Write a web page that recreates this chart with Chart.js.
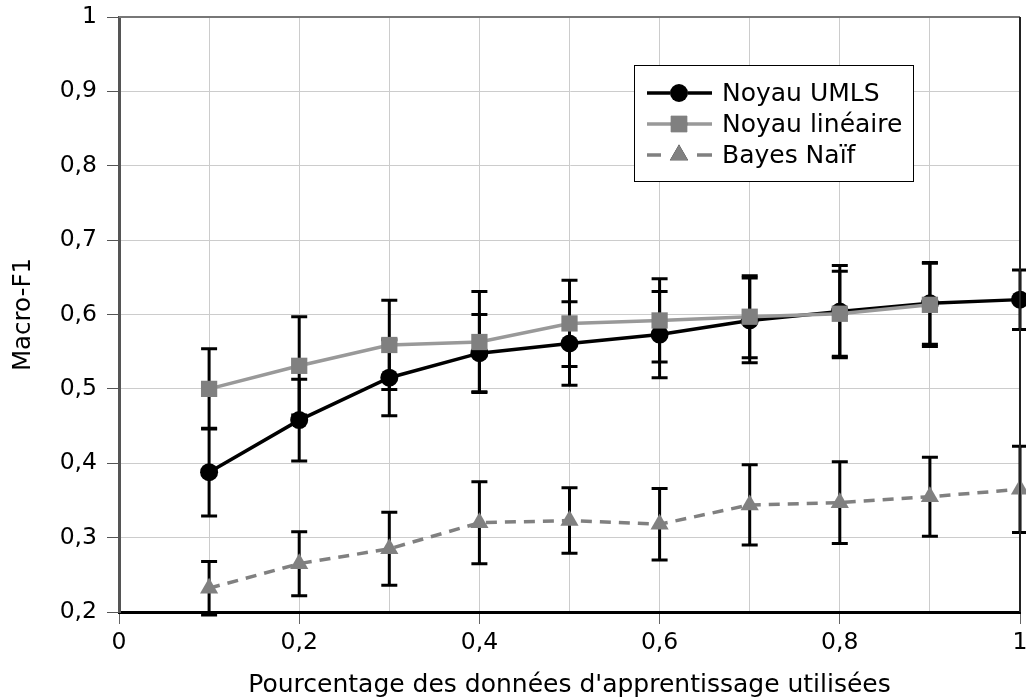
<!DOCTYPE html>
<html>
<head>
<meta charset="utf-8">
<script src="https://cdn.jsdelivr.net/npm/chart.js@4"></script>
<style>
  html, body { margin: 0; padding: 0; background: #fff; }
  #wrap { width: 1026px; height: 700px; }
</style>
</head>
<body>
<div id="wrap"><canvas id="c" width="1026" height="700"></canvas></div>
<script>
const xValues      = [0.1, 0.2, 0.3, 0.4, 0.5, 0.6, 0.7, 0.8, 0.9, 1.0];
const umls         = [0.388, 0.458, 0.515, 0.548, 0.561, 0.573, 0.592, 0.604, 0.615, 0.620];
const umlsErr      = [0.059, 0.055, 0.051, 0.052, 0.056, 0.058, 0.057, 0.062, 0.055, 0.040];
const lineaire     = [0.500, 0.531, 0.559, 0.563, 0.588, 0.592, 0.597, 0.601, 0.613, null];
const lineaireErr  = [0.054, 0.066, 0.060, 0.068, 0.058, 0.056, 0.055, 0.057, 0.056, null];
const bayes        = [0.232, 0.265, 0.285, 0.320, 0.323, 0.318, 0.344, 0.347, 0.355, 0.365];
const bayesErr     = [0.036, 0.043, 0.049, 0.055, 0.044, 0.048, 0.054, 0.055, 0.053, 0.058];
const seriesNames  = ['Noyau UMLS', 'Noyau linéaire', 'Bayes Naïf'];
const xTitle = "Pourcentage des données d'apprentissage utilisées";
const yTitle = 'Macro-F1';

const FONT = 'DejaVu Sans';
const toPts = (ys) => xValues.map((x, i) => ({x: x, y: ys[i]}));
const fmt = (v) => String(Math.round(v * 10) / 10).replace('.', ',');

const errorBars = {
  id: 'errorBars',
  beforeDatasetsDraw(chart) {
    const {ctx, scales: {x, y}} = chart;
    ctx.save();
    ctx.strokeStyle = '#000';
    ctx.lineWidth = 3;
    chart.data.datasets.forEach((ds) => {
      const errs = ds.errors;
      if (!errs) return;
      ds.data.forEach((p, i) => {
        if (p.y == null || errs[i] == null) return;
        const px = x.getPixelForValue(p.x);
        const yt = y.getPixelForValue(p.y + errs[i]);
        const yb = y.getPixelForValue(p.y - errs[i]);
        const cw = 8;
        ctx.beginPath();
        ctx.moveTo(px, yt); ctx.lineTo(px, yb);
        ctx.moveTo(px - cw, yt); ctx.lineTo(px + cw, yt);
        ctx.moveTo(px - cw, yb); ctx.lineTo(px + cw, yb);
        ctx.stroke();
      });
    });
    ctx.restore();
  }
};

const frame = {
  id: 'frame',
  afterDatasetsDraw(chart) {
    const {ctx, chartArea: a} = chart;
    ctx.save();
    ctx.lineWidth = 2;
    ctx.strokeStyle = '#777';
    ctx.beginPath(); ctx.moveTo(a.left, a.top); ctx.lineTo(a.right, a.top); ctx.stroke();
    ctx.strokeStyle = '#222';
    ctx.beginPath(); ctx.moveTo(a.right, a.top); ctx.lineTo(a.right, a.bottom); ctx.stroke();
    ctx.restore();
  }
};

const legendBox = {
  id: 'legendBox',
  afterDraw(chart) {
    const ctx = chart.ctx;
    const bx = 634.5, by = 65.5, bw = 279, bh = 116;
    ctx.save();
    ctx.fillStyle = '#fff';
    ctx.fillRect(bx, by, bw, bh);
    ctx.strokeStyle = '#000';
    ctx.lineWidth = 1;
    ctx.strokeRect(bx, by, bw, bh);
    const rows = [93, 124, 155];
    const x0 = 647, x1 = 712, mx = 679;
    chart.data.datasets.forEach((ds, i) => {
      const yy = rows[i];
      ctx.strokeStyle = ds.borderColor;
      ctx.lineWidth = 3.5;
      ctx.beginPath();
      if (ds.borderDash && ds.borderDash.length) {
        ctx.moveTo(x0, yy); ctx.lineTo(x0 + 14, yy);
        ctx.moveTo(x1 - 15, yy); ctx.lineTo(x1, yy);
      } else {
        ctx.moveTo(x0, yy); ctx.lineTo(x1, yy);
      }
      ctx.stroke();
      Chart.helpers.drawPoint(ctx, {
        pointStyle: ds.pointStyle, radius: ds.pointRadius, rotation: 0, borderWidth: 0
      }, mx, yy);
      ctx.fillStyle = ds.pointBackgroundColor;
      ctx.fill();
      ctx.fillStyle = '#000';
      ctx.font = '25px "' + FONT + '"';
      ctx.textBaseline = 'middle';
      ctx.textAlign = 'left';
      ctx.fillText(ds.label, 722, yy + 1);
    });
    ctx.restore();
  }
};

new Chart(document.getElementById('c'), {
  type: 'line',
  data: {
    datasets: [
      {
        label: seriesNames[0], data: toPts(umls), errors: umlsErr,
        borderColor: '#000', borderWidth: 3.5,
        pointStyle: 'circle', pointRadius: 9, pointBackgroundColor: '#000', pointBorderWidth: 0,
        order: 1
      },
      {
        label: seriesNames[1], data: toPts(lineaire), errors: lineaireErr,
        borderColor: '#999', borderWidth: 3.5,
        pointStyle: 'rect', pointRadius: 11.5, pointBackgroundColor: '#808080', pointBorderWidth: 0,
        order: 0
      },
      {
        label: seriesNames[2], data: toPts(bayes), errors: bayesErr,
        borderColor: '#808080', borderWidth: 3.5, borderDash: [11, 8],
        pointStyle: 'triangle', pointRadius: 10.5, pointBackgroundColor: '#808080', pointBorderWidth: 0,
        order: 2
      }
    ]
  },
  options: {
    responsive: false,
    animation: false,
    devicePixelRatio: 1,
    clip: false,
    layout: { autoPadding: false, padding: { top: 17, right: 6, left: 0, bottom: 0 } },
    plugins: { legend: { display: false }, tooltip: { enabled: false } },
    scales: {
      x: {
        type: 'linear', min: 0, max: 1,
        afterFit(s) { s.height = 88; s.paddingLeft = 0; s.paddingRight = 0; },
        ticks: {
          stepSize: 0.1, color: '#000', maxRotation: 0, padding: 5,
          font: { family: FONT, size: 23.5 },
          callback: (v) => (Math.round(v * 10) % 2 === 0 ? fmt(v) : '')
        },
        grid: {
          color: '#cccccc', lineWidth: 1, tickLength: 12,
          tickColor: (c) => (c.tick && Math.round(c.tick.value * 10) % 2 === 0 ? '#666' : 'rgba(0,0,0,0)')
        },
        border: { color: '#000', width: 3 },
        title: { display: true, text: xTitle, color: '#000', font: { family: FONT, size: 25 }, padding: { top: 0, bottom: 0 } }
      },
      y: {
        type: 'linear', min: 0.2, max: 1,
        afterFit(s) { s.width = 119; s.paddingTop = 0; s.paddingBottom = 0; },
        ticks: {
          stepSize: 0.1, color: '#000', padding: 10,
          font: { family: FONT, size: 23.5 },
          callback: (v) => fmt(v)
        },
        grid: { color: '#cccccc', lineWidth: 1, tickLength: 12, tickColor: '#555' },
        border: { color: '#555', width: 3 },
        title: { display: true, text: yTitle, color: '#000', font: { family: FONT, size: 24.5 }, padding: { top: 9, bottom: 0 } }
      }
    }
  },
  plugins: [errorBars, frame, legendBox]
});
</script>
</body>
</html>
